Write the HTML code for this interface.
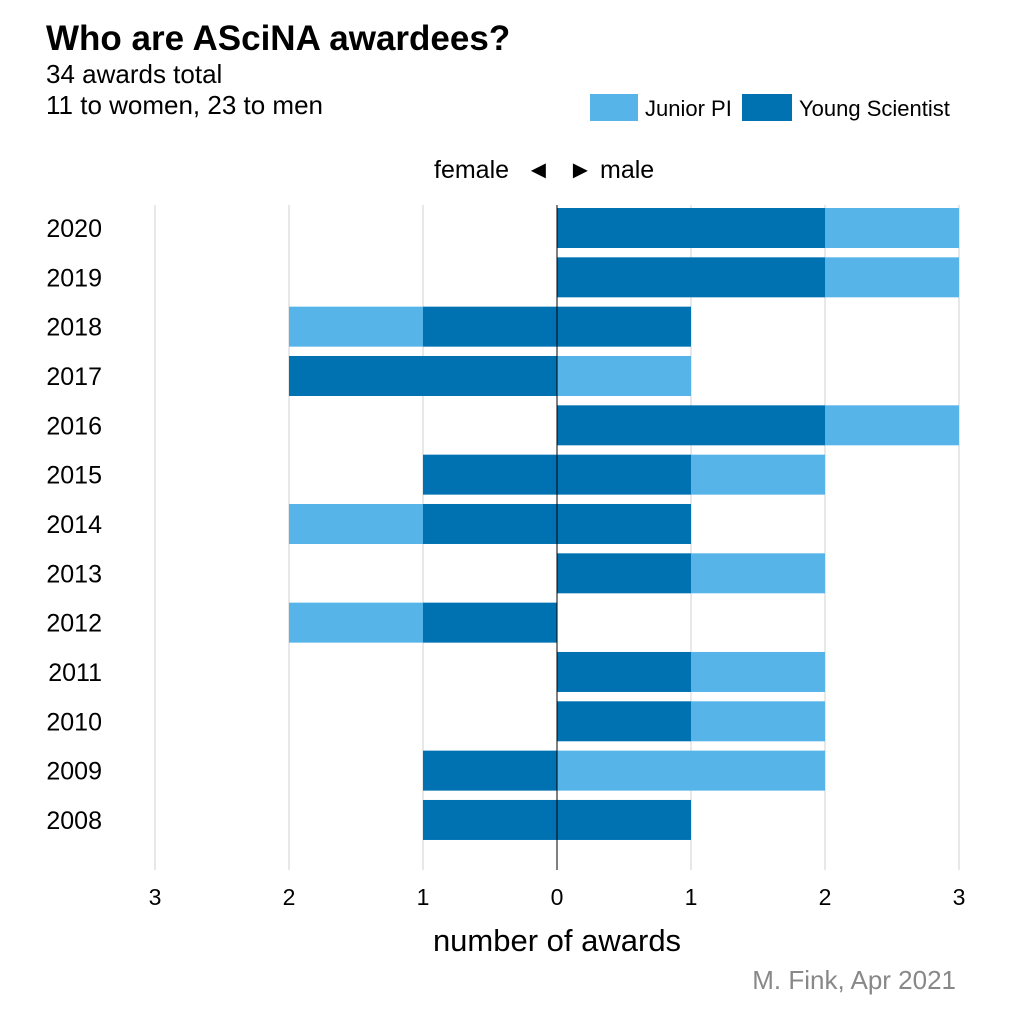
<!DOCTYPE html>
<html><head><meta charset="utf-8"><style>
body{margin:0;background:#fff;}
svg text{font-family:"Liberation Sans",Arial,sans-serif;}
</style></head><body>
<svg id="chart" width="1024" height="1024" viewBox="0 0 1024 1024">
<text x="46" y="50" font-size="35" font-weight="bold" fill="#000">Who are ASciNA awardees?</text>
<text x="46" y="83" font-size="26" fill="#000">34 awards total</text>
<text x="46" y="114" font-size="26" fill="#000">11 to women, 23 to men</text>
<g>
<rect x="590" y="94" width="48" height="27" fill="#56b4e9"/>
<text x="645" y="116" font-size="22">Junior PI</text>
<rect x="742" y="94" width="50" height="27" fill="#0072b2"/>
<text x="799" y="116" font-size="22">Young Scientist</text>
</g>
<text x="434" y="178" font-size="25">female</text>
<text x="526" y="178" font-size="25">◄</text>
<text x="568" y="178" font-size="25">►</text>
<text x="600" y="178" font-size="25">male</text>
<g id="grid"></g><g id="bars"></g><g id="axes"></g>
<text x="557" y="951" font-size="31" text-anchor="middle">number of awards</text>
<text x="956" y="989" font-size="26" fill="#888" text-anchor="end">M. Fink, Apr 2021</text>
</svg>
<script>
const years=[2020,2019,2018,2017,2016,2015,2014,2013,2012,2011,2010,2009,2008];
const femaleYS=[0,0,1,2,0,1,1,0,1,0,0,1,1];
const femaleJPI=[0,0,1,0,0,0,1,0,1,0,0,0,0];
const maleYS=[2,2,1,0,2,1,1,1,0,1,1,0,1];
const maleJPI=[1,1,0,1,1,1,0,1,0,1,1,2,0];
const ticks=[-3,-2,-1,0,1,2,3];
const tickLabels=["3","2","1","0","1","2","3"];
const NS="http://www.w3.org/2000/svg";
const x=v=>557+v*134;
const y=i=>228+i*49.33;
const bh=40;
function mk(t,a,p){const e=document.createElementNS(NS,t);for(const k in a)e.setAttribute(k,a[k]);document.getElementById(p).appendChild(e);return e;}
ticks.forEach((t,i)=>{
 const g=mk('line',{x1:x(t),x2:x(t),y1:205,y2:870,stroke:t===0?'#000':'#d0d0d0','stroke-width':1},t===0?'axes':'grid');
 
 
 const l=mk('text',{x:x(t),y:905,'font-size':23,'text-anchor':'middle'},'axes');
 l.textContent=tickLabels[i];
 
 
});
function bar(x0,x1,i,c,name){
 if(x1===x0)return;
 const r=mk('rect',{x:Math.min(x(x0),x(x1)),y:y(i)-bh/2,width:Math.abs(x(x1)-x(x0)),height:bh,fill:c},'bars');
 
 
}
years.forEach((yr,i)=>{
 bar(0,-femaleYS[i],i,'#0072b2','bar-female-young-scientist');
 bar(-femaleYS[i],-femaleYS[i]-femaleJPI[i],i,'#56b4e9','bar-female-junior-pi');
 bar(0,maleYS[i],i,'#0072b2','bar-male-young-scientist');
 bar(maleYS[i],maleYS[i]+maleJPI[i],i,'#56b4e9','bar-male-junior-pi');
 const l=mk('text',{x:102,y:y(i)+9,'font-size':25,'text-anchor':'end'},'axes');
 l.textContent=yr;
 
 
});
</script>
</body></html>
